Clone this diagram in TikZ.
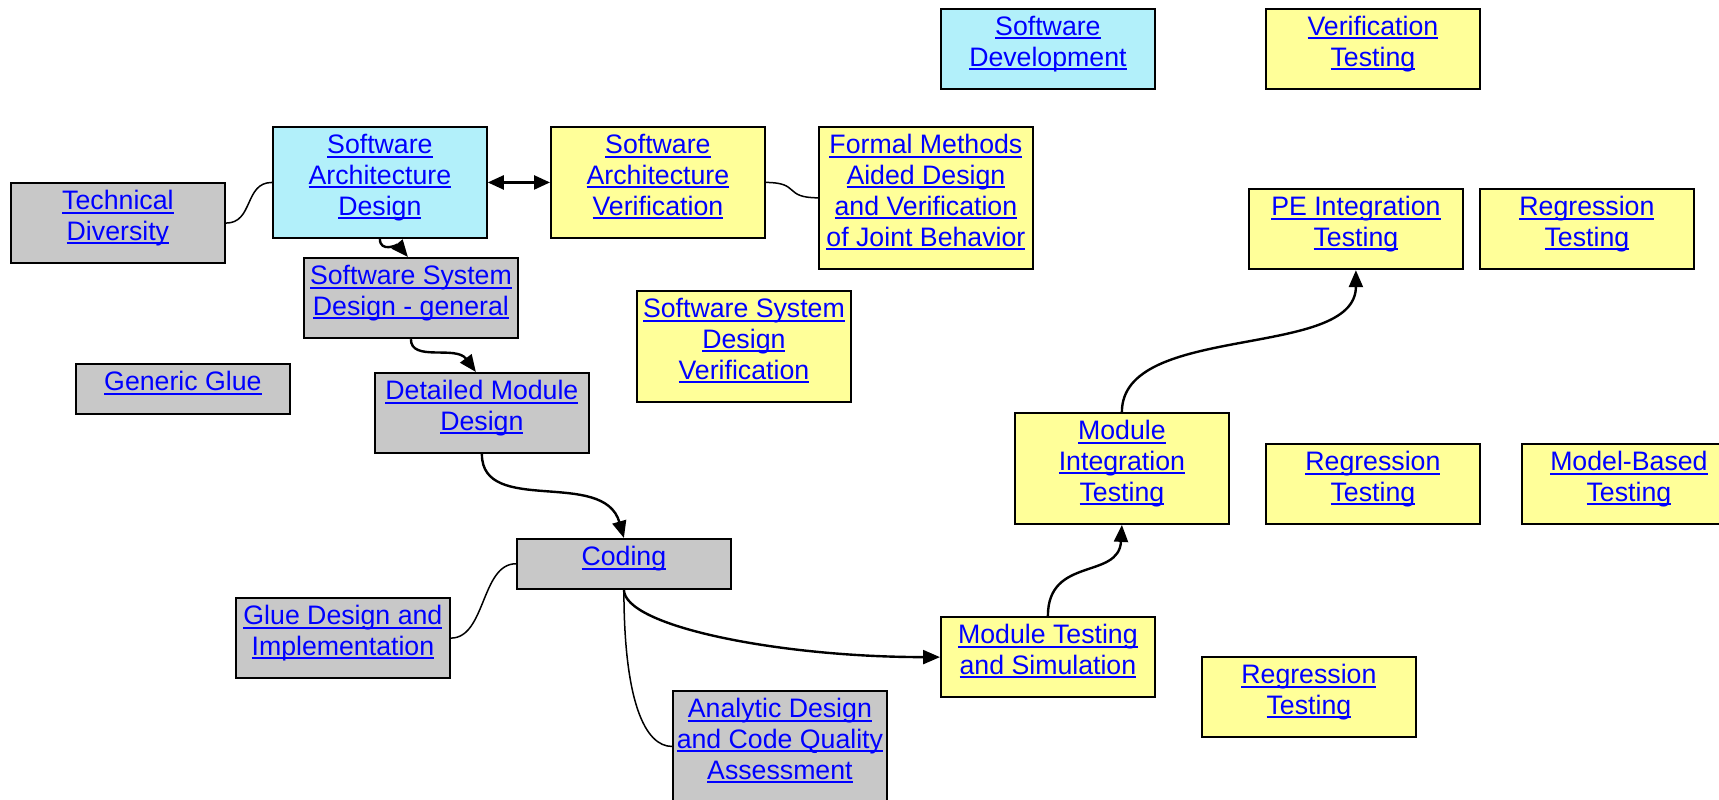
\documentclass[tikz,border=0pt]{standalone}
\usepackage{fontspec}
\setmainfont{Liberation Sans}
\usetikzlibrary{arrows.meta}
\definecolor{archcyan}{RGB}{178,240,250}
\definecolor{verifyellow}{RGB}{255,255,153}
\definecolor{implgray}{RGB}{200,200,200}
\definecolor{linkblue}{RGB}{0,0,255}
% underlined hyperlink-style text
\newsavebox\lkbox
\newcommand\lk[1]{\leavevmode\sbox\lkbox{#1}\rlap{\rule[-3.6pt]{\wd\lkbox}{2pt}}\usebox\lkbox}
% box body: #1 = number of lines, text hangs from the top
\newcommand\bx[2]{\parbox[c][\dimexpr 30.7pt*#1+19pt\relax][t]{214pt}{\centering\rule{0pt}{27pt}#2}}
\tikzset{
  topic/.style={draw=black, line width=1.8pt, inner sep=0pt, anchor=north west,
    text=linkblue, font=\fontsize{26.7pt}{30.7pt}\selectfont},
  design/.style={topic, fill=archcyan},
  verif/.style={topic, fill=verifyellow},
  impl/.style={topic, fill=implgray},
  flow/.style={line width=2.4pt, -{Triangle[length=17pt,width=14pt]}},
  twoway/.style={line width=2.4pt, {Triangle[length=16pt,width=14pt]}-{Triangle[length=16pt,width=14pt]}},
  assoc/.style={line width=1.5pt},
}
\begin{document}
\begin{tikzpicture}[x=1pt,y=-1pt]
\useasboundingbox (0,0) rectangle (1719,800);

% topics
\node[design] (sdev) at (940,8)   {\bx{2}{\lk{Software}\\\lk{Development}}};
\node[verif]  (vt)   at (1265,8)  {\bx{2}{\lk{Verification}\\\lk{Testing}}};
\node[design] (sad)  at (272,126) {\bx{3}{\lk{Software}\\\lk{Architecture}\\\lk{Design}}};
\node[verif]  (sav)  at (550,126) {\bx{3}{\lk{Software}\\\lk{Architecture}\\\lk{Verification}}};
\node[verif]  (fm)   at (818,126) {\bx{4}{\lk{Formal Methods}\\\lk{Aided Design}\\\lk{and Verification}\\\lk{of Joint Behavior}}};
\node[impl]   (td)   at (10,182)  {\bx{2}{\lk{Technical}\\\lk{Diversity}}};
\node[verif]  (pe)   at (1248,188) {\bx{2}{\lk{PE Integration}\\\lk{Testing}}};
\node[verif]  (rt1)  at (1479,188) {\bx{2}{\lk{Regression}\\\lk{Testing}}};
\node[impl]   (ssdg) at (303,257) {\bx{2}{\lk{Software System}\\\lk{Design - general}}};
\node[verif]  (ssdv) at (636,290) {\bx{3}{\lk{Software System}\\\lk{Design}\\\lk{Verification}}};
\node[impl]   (gg)   at (75,363)  {\bx{1}{\lk{Generic Glue}}};
\node[impl]   (dmd)  at (374,372) {\bx{2}{\lk{Detailed Module}\\\lk{Design}}};
\node[verif]  (mit)  at (1014,412) {\bx{3}{\lk{Module}\\\lk{Integration}\\\lk{Testing}}};
\node[verif]  (rt2)  at (1265,443) {\bx{2}{\lk{Regression}\\\lk{Testing}}};
\node[verif]  (mbt)  at (1521,443) {\bx{2}{\lk{Model-Based}\\\lk{Testing}}};
\node[impl]   (cod)  at (516,538) {\bx{1}{\lk{Coding}}};
\node[impl]   (gdi)  at (235,597) {\bx{2}{\lk{Glue Design and}\\\lk{Implementation}}};
\node[verif]  (mts)  at (940,616) {\bx{2}{\lk{Module Testing}\\\lk{and Simulation}}};
\node[verif]  (rt3)  at (1201,656) {\bx{2}{\lk{Regression}\\\lk{Testing}}};
\node[impl]   (adc)  at (672,690) {\bx{3}{\lk{Analytic Design}\\\lk{and Code Quality}\\\lk{Assessment}}};

% connectors
\draw[twoway] (sad.east) -- (sav.west);
\draw[assoc] (td.east) .. controls +(28,0) and +(-28,0) .. (sad.west);
\draw[assoc] (sav.east) .. controls +(35,0) and +(-35,0) .. (fm.west);
\draw[flow] (sad.south) .. controls +(0,14) and +(-10,-12) .. ([xshift=-3pt]ssdg.north);
\draw[flow] (ssdg.south) .. controls +(0,23) and +(-20,-27) .. ([xshift=-6pt]dmd.north);
\draw[flow] (dmd.south) .. controls +(0,62) and +(-20,-70) .. (cod.north);
\draw[assoc] (cod.west) .. controls +(-35,0) and +(35,0) .. (gdi.east);
\draw[assoc] (cod.south) .. controls +(0,112) and +(-27,0) .. (adc.west);
\draw[flow] (cod.south) .. controls +(0,37) and +(-160,0) .. (mts.west);
\draw[flow] (mts.north) .. controls +(0,-60) and +(-3,55) .. (mit.south);
\draw[flow] (mit.north) .. controls +(0,-90) and +(0,90) .. (pe.south);
\end{tikzpicture}
\end{document}
